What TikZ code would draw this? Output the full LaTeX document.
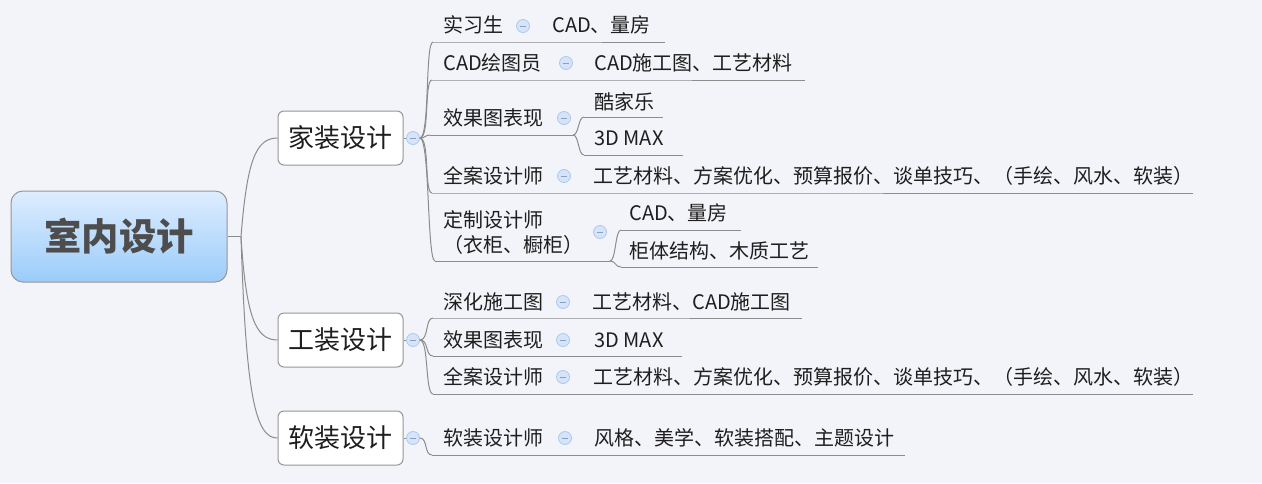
\documentclass[tikz,border=0pt]{standalone}
\usepackage{fontspec}
\setmainfont{Noto Sans CJK SC}
\definecolor{bg}{RGB}{243,244,249}
\definecolor{linec}{RGB}{140,140,140}
\definecolor{boxborder}{RGB}{150,150,150}
\definecolor{txt}{RGB}{30,30,30}
\definecolor{rootborder}{RGB}{150,150,150}
\definecolor{roottop}{RGB}{222,237,255}
\definecolor{rootbot}{RGB}{155,204,250}
\definecolor{roottext}{RGB}{77,77,77}
\definecolor{btnfill}{RGB}{214,228,250}
\definecolor{btnborder}{RGB}{170,200,240}
\definecolor{btnminus}{RGB}{140,160,190}
\begin{document}
\begin{tikzpicture}[x=0.75pt,y=-0.75pt,
  rootbox/.style={rectangle, rounded corners=9pt, draw=rootborder, line width=0.75pt,
    top color=roottop, bottom color=rootbot, minimum width=162pt, minimum height=68.25pt,
    inner sep=0pt, font=\fontsize{28}{32}\selectfont\bfseries, text=roottext},
  mainbox/.style={rectangle, rounded corners=4.5pt, draw=boxborder, line width=0.75pt, fill=white,
    minimum width=93.75pt, minimum height=40.5pt, inner sep=0pt,
    font=\fontsize{19.5}{22}\selectfont, text=txt},
  sub/.style={anchor=west, inner sep=0pt, font=\fontsize{15}{18.75}\selectfont, text=txt},
  colbtn/.style={circle, draw=btnborder, fill=btnfill, line width=0.6pt, minimum size=9.75pt, inner sep=0pt,
    path picture={\draw[btnminus, line width=0.6pt] ([xshift=-2.6pt]path picture bounding box.center) -- ([xshift=2.6pt]path picture bounding box.center);}},
  conn/.style={draw=linec, line width=0.75pt},
  uline/.style={draw=linec, line width=0.75pt}]
\fill[bg] (0,0) rectangle (1262,483);
\useasboundingbox (0,0) rectangle (1262,483);

% root
\node[rootbox] (root) at (119,236.5) {室内设计};
\coordinate (rj) at (241,236.5);

% level 1
\node[mainbox] (b1) at (340.5,138) {家装设计};
\node[mainbox] (b2) at (340.5,340) {工装设计};
\node[mainbox] (b3) at (340.5,438) {软装设计};
\node[colbtn] (cb1) at (413,138) {};
\node[colbtn] (cb2) at (413,340) {};
\node[colbtn] (cb3) at (413,438) {};

\draw[conn] (root.east) -- (rj);
\draw[conn] (rj) .. controls +(6,-75) and +(-22,0) .. (b1.west);
\draw[conn] (rj) .. controls +(5,80) and +(-22,0) .. (b2.west);
\draw[conn] (rj) .. controls +(5,160) and +(-22,0) .. (b3.west);
\draw[conn] (b1.east) -- (cb1.west);
\draw[conn] (b2.east) -- (cb2.west);
\draw[conn] (b3.east) -- (cb3.west);

% ---------- group 1 ----------
% 实习生
\node[sub] (t11) at (443,25) {实习生};
\node[colbtn] (c11) at (523,26) {};
\node[sub] (t11a) at (552,25) {CAD、量房};
\coordinate (u11s) at (433,42); \coordinate (u11m) at (540,42); \coordinate (u11e) at (665,42);
\draw[uline] (u11s) -- (u11m) -- (u11e);
\draw[conn] (cb1.east) .. controls +(10,0) and +(-8,0) .. (u11s);

% CAD绘图员
\node[sub] (t12) at (443,63) {CAD绘图员};
\node[colbtn] (c12) at (566,63) {};
\node[sub] (t12a) at (594,63) {CAD施工图、工艺材料};
\coordinate (u12s) at (432,80); \coordinate (u12m) at (582,80); \coordinate (u12e) at (805,80);
\draw[uline] (u12s) -- (u12m) -- (u12e);
\draw[conn] (cb1.east) .. controls +(10,0) and +(-8,0) .. (u12s);

% 效果图表现
\node[sub] (t13) at (443,118) {效果图表现};
\node[colbtn] (c13) at (564,118) {};
\coordinate (u13s) at (430,135); \coordinate (u13e) at (573,135);
\draw[uline] (u13s) -- (u13e);
\draw[conn] (cb1.east) .. controls +(6,0) and +(-5,0) .. (u13s);
\node[sub] (t13a) at (594,102) {酷家乐};
\coordinate (u13as) at (584,117); \coordinate (u13ae) at (663,117);
\draw[uline] (u13as) -- (u13ae);
\draw[conn] (u13e) .. controls +(6,0) and +(-6,0) .. (u13as);
\node[sub] (t13b) at (594,138) {3D MAX};
\coordinate (u13bs) at (584,155); \coordinate (u13be) at (683,155);
\draw[uline] (u13bs) -- (u13be);
\draw[conn] (u13e) .. controls +(6,0) and +(-6,0) .. (u13bs);

% 全案设计师
\node[sub] (t14) at (443,176) {全案设计师};
\node[colbtn] (c14) at (564,176) {};
\node[sub] (t14a) at (593,176) {工艺材料、方案优化、预算报价、谈单技巧、（手绘、风水、软装）};
\coordinate (u14s) at (432,193); \coordinate (u14m) at (580,193); \coordinate (u14e) at (1193,193);
\draw[uline] (u14s) -- (u14m) -- (u14e);
\draw[conn] (cb1.east) .. controls +(10,0) and +(-8,0) .. (u14s);

% 定制设计师
\node[sub, align=left] (t15) at (443,232.5) {定制设计师\\（衣柜、橱柜）};
\node[colbtn] (c15) at (600,232) {};
\coordinate (u15s) at (435,261); \coordinate (u15e) at (610,261);
\draw[uline] (u15s) -- (u15e);
\draw[conn] (cb1.east) .. controls +(10,0) and +(-8,0) .. (u15s);
\node[sub] (t15a) at (629,213) {CAD、量房};
\coordinate (u15as) at (621,230); \coordinate (u15ae) at (741,230);
\draw[uline] (u15as) -- (u15ae);
\draw[conn] (u15e) .. controls +(6,0) and +(-6,0) .. (u15as);
\node[sub] (t15b) at (629,251) {柜体结构、木质工艺};
\coordinate (u15bs) at (621,267); \coordinate (u15be) at (818,267);
\draw[uline] (u15bs) -- (u15be);
\draw[conn] (u15e) .. controls +(6,0) and +(-6,0) .. (u15bs);

% ---------- group 2 ----------
\node[sub] (t21) at (443,302) {深化施工图};
\node[colbtn] (c21) at (563,302) {};
\node[sub] (t21a) at (592,302) {工艺材料、CAD施工图};
\coordinate (u21s) at (433,318); \coordinate (u21m) at (580,318); \coordinate (u21e) at (802,318);
\draw[uline] (u21s) -- (u21m) -- (u21e);
\draw[conn] (cb2.east) .. controls +(9,0) and +(-8,0) .. (u21s);

\node[sub] (t22) at (443,340) {效果图表现};
\node[colbtn] (c22) at (563,340) {};
\node[sub] (t22a) at (594,340) {3D MAX};
\coordinate (u22s) at (433,356); \coordinate (u22m) at (580,356); \coordinate (u22e) at (682,356);
\draw[uline] (u22s) -- (u22m) -- (u22e);
\draw[conn] (cb2.east) .. controls +(9,0) and +(-8,0) .. (u22s);

\node[sub] (t23) at (443,377) {全案设计师};
\node[colbtn] (c23) at (563,377) {};
\node[sub] (t23a) at (593,377) {工艺材料、方案优化、预算报价、谈单技巧、（手绘、风水、软装）};
\coordinate (u23s) at (433,394); \coordinate (u23m) at (580,394); \coordinate (u23e) at (1193,394);
\draw[uline] (u23s) -- (u23m) -- (u23e);
\draw[conn] (cb2.east) .. controls +(9,0) and +(-8,0) .. (u23s);

% ---------- group 3 ----------
\node[sub] (t31) at (443,438) {软装设计师};
\node[colbtn] (c31) at (565,438) {};
\node[sub] (t31a) at (594,438) {风格、美学、软装搭配、主题设计};
\coordinate (u31s) at (432,455); \coordinate (u31m) at (580,455); \coordinate (u31e) at (905,455);
\draw[uline] (u31s) -- (u31m) -- (u31e);
\draw[conn] (cb3.east) .. controls +(8,0) and +(-8,0) .. (u31s);
\end{tikzpicture}
\end{document}
